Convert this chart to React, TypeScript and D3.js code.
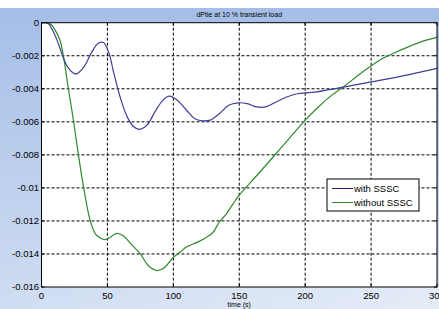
import React from "react";
import * as d3 from "d3";

const title = "dPtie at 10 % transient load";
const xLabel = "time (s)";
const xTicks = [0, 50, 100, 150, 200, 250, 300];
const yTicks = [0, -0.002, -0.004, -0.006, -0.008, -0.01, -0.012, -0.014, -0.016];
const yTickLabels = ["0", "-0.002", "-0.004", "-0.006", "-0.008", "-0.01", "-0.012", "-0.014", "-0.016"];
const seriesNames = ["with SSSC", "without SSSC"];

const withTime = [0, 5, 8, 12, 16, 20, 26, 32, 38, 43, 47, 51, 55, 60, 65, 70, 74, 80, 86, 92, 97, 103, 110, 116, 122, 128, 135, 142, 149, 156, 163, 170, 178, 186, 194, 205, 215, 229, 249, 275, 300];
const withVal = [0, -0.00005, -0.0004, -0.0011, -0.002, -0.0027, -0.0031, -0.0027, -0.0018, -0.00125, -0.0012, -0.0018, -0.0031, -0.0046, -0.0057, -0.0063, -0.00646, -0.0062, -0.0054, -0.0047, -0.00445, -0.0047, -0.0053, -0.0058, -0.00594, -0.0059, -0.0055, -0.005, -0.00485, -0.0049, -0.0051, -0.0051, -0.0048, -0.0045, -0.0043, -0.00422, -0.0041, -0.0039, -0.0036, -0.0032, -0.00276];

const withoutTime = [0, 4, 7, 10, 14, 17, 20, 24, 28, 32, 37, 41, 45, 48, 52, 57, 62, 68, 75, 81, 87, 92, 97, 100, 105, 110, 118, 125, 130, 135, 140, 145, 150, 165, 176, 188, 200, 210, 220, 229, 240, 249, 258, 267, 280, 290, 300];
const withoutVal = [0, 0, -0.0001, -0.0004, -0.00105, -0.0022, -0.0038, -0.0058, -0.008, -0.01, -0.012, -0.0128, -0.01305, -0.01313, -0.013, -0.01275, -0.0129, -0.0134, -0.014, -0.0147, -0.015, -0.0149, -0.0145, -0.0142, -0.0139, -0.01358, -0.0133, -0.013, -0.0127, -0.01206, -0.0116, -0.011, -0.01044, -0.0091, -0.0081, -0.007, -0.0059, -0.0051, -0.0044, -0.00388, -0.0032, -0.00267, -0.0022, -0.00185, -0.0014, -0.0011, -0.00089];

const W = 439;
const H = 309;
const FONT = "'Liberation Sans', Arial, sans-serif";

export default function App() {
  const x = d3.scaleLinear().domain([0, 300]).range([41.5, 437]);
  const y = d3.scaleLinear().domain([-0.016, 0]).range([287, 22.7]);

  const line = d3
    .line<[number, number]>()
    .x((d) => x(d[0]))
    .y((d) => y(d[1]))
    .curve(d3.curveCatmullRom.alpha(0.5));

  const withData: [number, number][] = withTime.map((t, i) => [t, withVal[i]]);
  const withoutData: [number, number][] = withoutTime.map((t, i) => [t, withoutVal[i]]);

  const blue = "#3f3f95";
  const green = "#2d8a2d";
  const [x0, x1] = x.range();
  const [yb, yt] = y.range();

  return (
    <svg
      width={W}
      height={H}
      style={{ position: "absolute", left: 0, top: 0, display: "block" }}
      fontFamily={FONT}
    >
      <defs>
        <linearGradient id="bgv" x1="0" y1="0" x2="0" y2="1">
          <stop offset="0" stopColor="#a5bee7" />
          <stop offset="1" stopColor="#d0ddf2" />
        </linearGradient>
        <linearGradient id="bgh" x1="0" y1="0" x2="1" y2="0">
          <stop offset="0" stopColor="#ffffff" stopOpacity="0" />
          <stop offset="1" stopColor="#ffffff" stopOpacity="0.45" />
        </linearGradient>
      </defs>
      <rect x={0} y={0} width={W} height={H} fill="#ffffff" />
      <rect x={0} y={8} width={W} height={H - 8} fill="url(#bgv)" />
      <rect x={0} y={yb} width={W} height={H - yb} fill="url(#bgh)" />
      <rect x={x0} y={yt} width={x1 - x0} height={yb - yt} fill="#ffffff" />

      {/* grid */}
      {xTicks
        .filter((t) => t > 0 && t < 300)
        .map((t) => (
          <line key={"gx" + t} x1={x(t)} x2={x(t)} y1={yt} y2={yb} stroke="#000" strokeWidth={1} strokeDasharray="3,2" />
        ))}
      {yTicks
        .filter((t) => t < 0 && t > -0.016)
        .map((t) => (
          <line key={"gy" + t} x1={x0} x2={x1} y1={y(t)} y2={y(t)} stroke="#000" strokeWidth={1} strokeDasharray="3,2" />
        ))}

      {/* series */}
      <path d={line(withoutData) || ""} fill="none" stroke={green} strokeWidth={1.2} />
      <path d={line(withData) || ""} fill="none" stroke={blue} strokeWidth={1.2} />

      {/* axes box */}
      <rect x={x0} y={yt} width={x1 - x0} height={yb - yt} fill="none" stroke="#000" strokeWidth={1} />
      {xTicks.map((t) => (
        <g key={"tx" + t}>
          <line x1={x(t)} x2={x(t)} y1={yb} y2={yb - 3} stroke="#000" />
          <line x1={x(t)} x2={x(t)} y1={yt} y2={yt + 3} stroke="#000" />
          <text x={x(t)} y={299} fontSize={9.5} textAnchor="middle" fill="#000">
            {t}
          </text>
        </g>
      ))}
      {yTicks.map((t, i) => (
        <g key={"ty" + i}>
          <line x1={x0} x2={x0 + 3} y1={y(t)} y2={y(t)} stroke="#000" />
          <line x1={x1} x2={x1 - 3} y1={y(t)} y2={y(t)} stroke="#000" />
          <text x={39} y={y(t) + 3.4} fontSize={9.5} textAnchor="end" fill="#000">
            {yTickLabels[i]}
          </text>
        </g>
      ))}

      <text x={(x0 + x1) / 2} y={17} fontSize={7} textAnchor="middle" fill="#000">
        {title}
      </text>
      <text x={(x0 + x1) / 2} y={306.5} fontSize={7} textAnchor="middle" fill="#000">
        {xLabel}
      </text>

      {/* legend */}
      <g>
        <rect x={327} y={179} width={92} height={32} fill="#ffffff" stroke="#000" strokeWidth={1} />
        {seriesNames.map((n, i) => (
          <g key={n}>
            <line x1={332} x2={353} y1={188.5 + i * 14} y2={188.5 + i * 14} stroke={i === 0 ? "#1e1e70" : green} strokeWidth={1} />
            <text x={354} y={191.8 + i * 14} fontSize={9.5} fill="#000">
              {n}
            </text>
          </g>
        ))}
      </g>
    </svg>
  );
}
